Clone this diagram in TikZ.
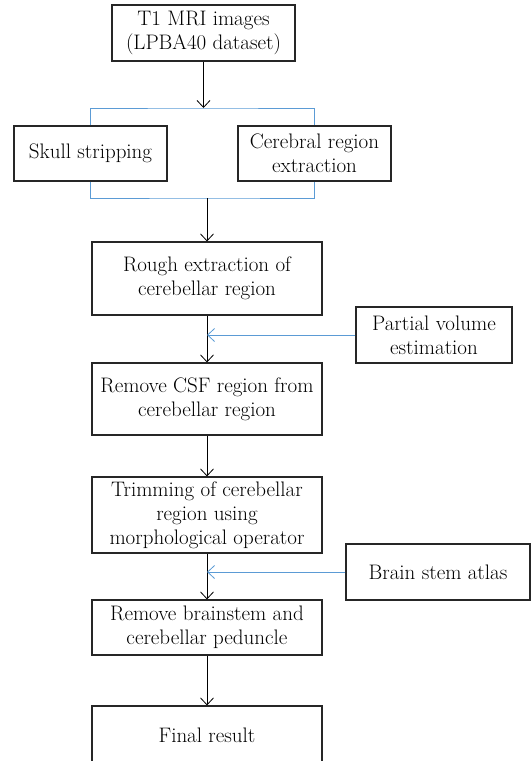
\documentclass[tikz,border=0pt]{standalone}
\usepackage{tikz}
\usetikzlibrary{arrows.meta}
\definecolor{bracketblue}{RGB}{91,155,213}

\begin{document}
\begin{tikzpicture}[x=1pt,y=-1pt,
  procbox/.style={draw=black!85,line width=1.1pt,align=center,inner sep=0pt,
    font=\fontsize{21}{24}\selectfont},
  mainbox/.style={procbox,minimum width=230,minimum height=#1},
  flow/.style={draw=black,line width=0.8pt,-{Straight Barb[length=7pt,width=13pt]}},
  feed/.style={flow,draw=bracketblue},
  bracket/.style={draw=bracketblue,line width=1pt}]
 \clip (0,0) rectangle (531,761);

 % input and the two parallel steps
 \node [procbox,minimum width=183,minimum height=56] (input) at (203.5,33) {T1 MRI images\\(LPBA40 dataset)};
 \node [procbox,minimum width=153,minimum height=55] (skull) at (90.5,153.5) {Skull stripping};
 \node [procbox,minimum width=153,minimum height=55] (cerebral) at (314.5,153.5) {Cerebral region\\extraction};
 \coordinate (brtop) at (203.5,108);
 \coordinate (brbot) at (207,198);

 % main column
 \node [mainbox=73] (rough) at (207,278.5) {Rough extraction of\\cerebellar region};
 \node [mainbox=72] (csf) at (207,399) {Remove CSF region from\\cerebellar region};
 \node [mainbox=76] (trim) at (207,515) {Trimming of cerebellar\\region using\\morphological operator};
 \node [mainbox=55] (stem) at (207,627.5) {Remove brainstem and\\cerebellar peduncle};
 \node [mainbox=58] (final) at (207,735) {Final result};

 % side inputs
 \node [procbox,minimum width=156,minimum height=56] (pve) at (434,335) {Partial volume\\estimation};
 \node [procbox,minimum width=184,minimum height=56] (atlas) at (438,572) {Brain stem atlas};

 \draw [bracket] (skull.north) |- (brtop) -| (cerebral.north);
 \draw [bracket] (skull.south) |- (brbot) -| (cerebral.south);
 \draw [flow] (input.south) -- (brtop);
 \draw [flow] (brbot) -- (rough.north);
 \draw [flow] (rough) -- (csf);
 \draw [flow] (csf) -- (trim);
 \draw [flow] (trim) -- (stem);
 \draw [flow] (stem) -- (final);
 \draw [feed] (pve.west) -- (rough.south |- pve.west);
 \draw [feed] (atlas.west) -- (trim.south |- atlas.west);
\end{tikzpicture}
\end{document}
